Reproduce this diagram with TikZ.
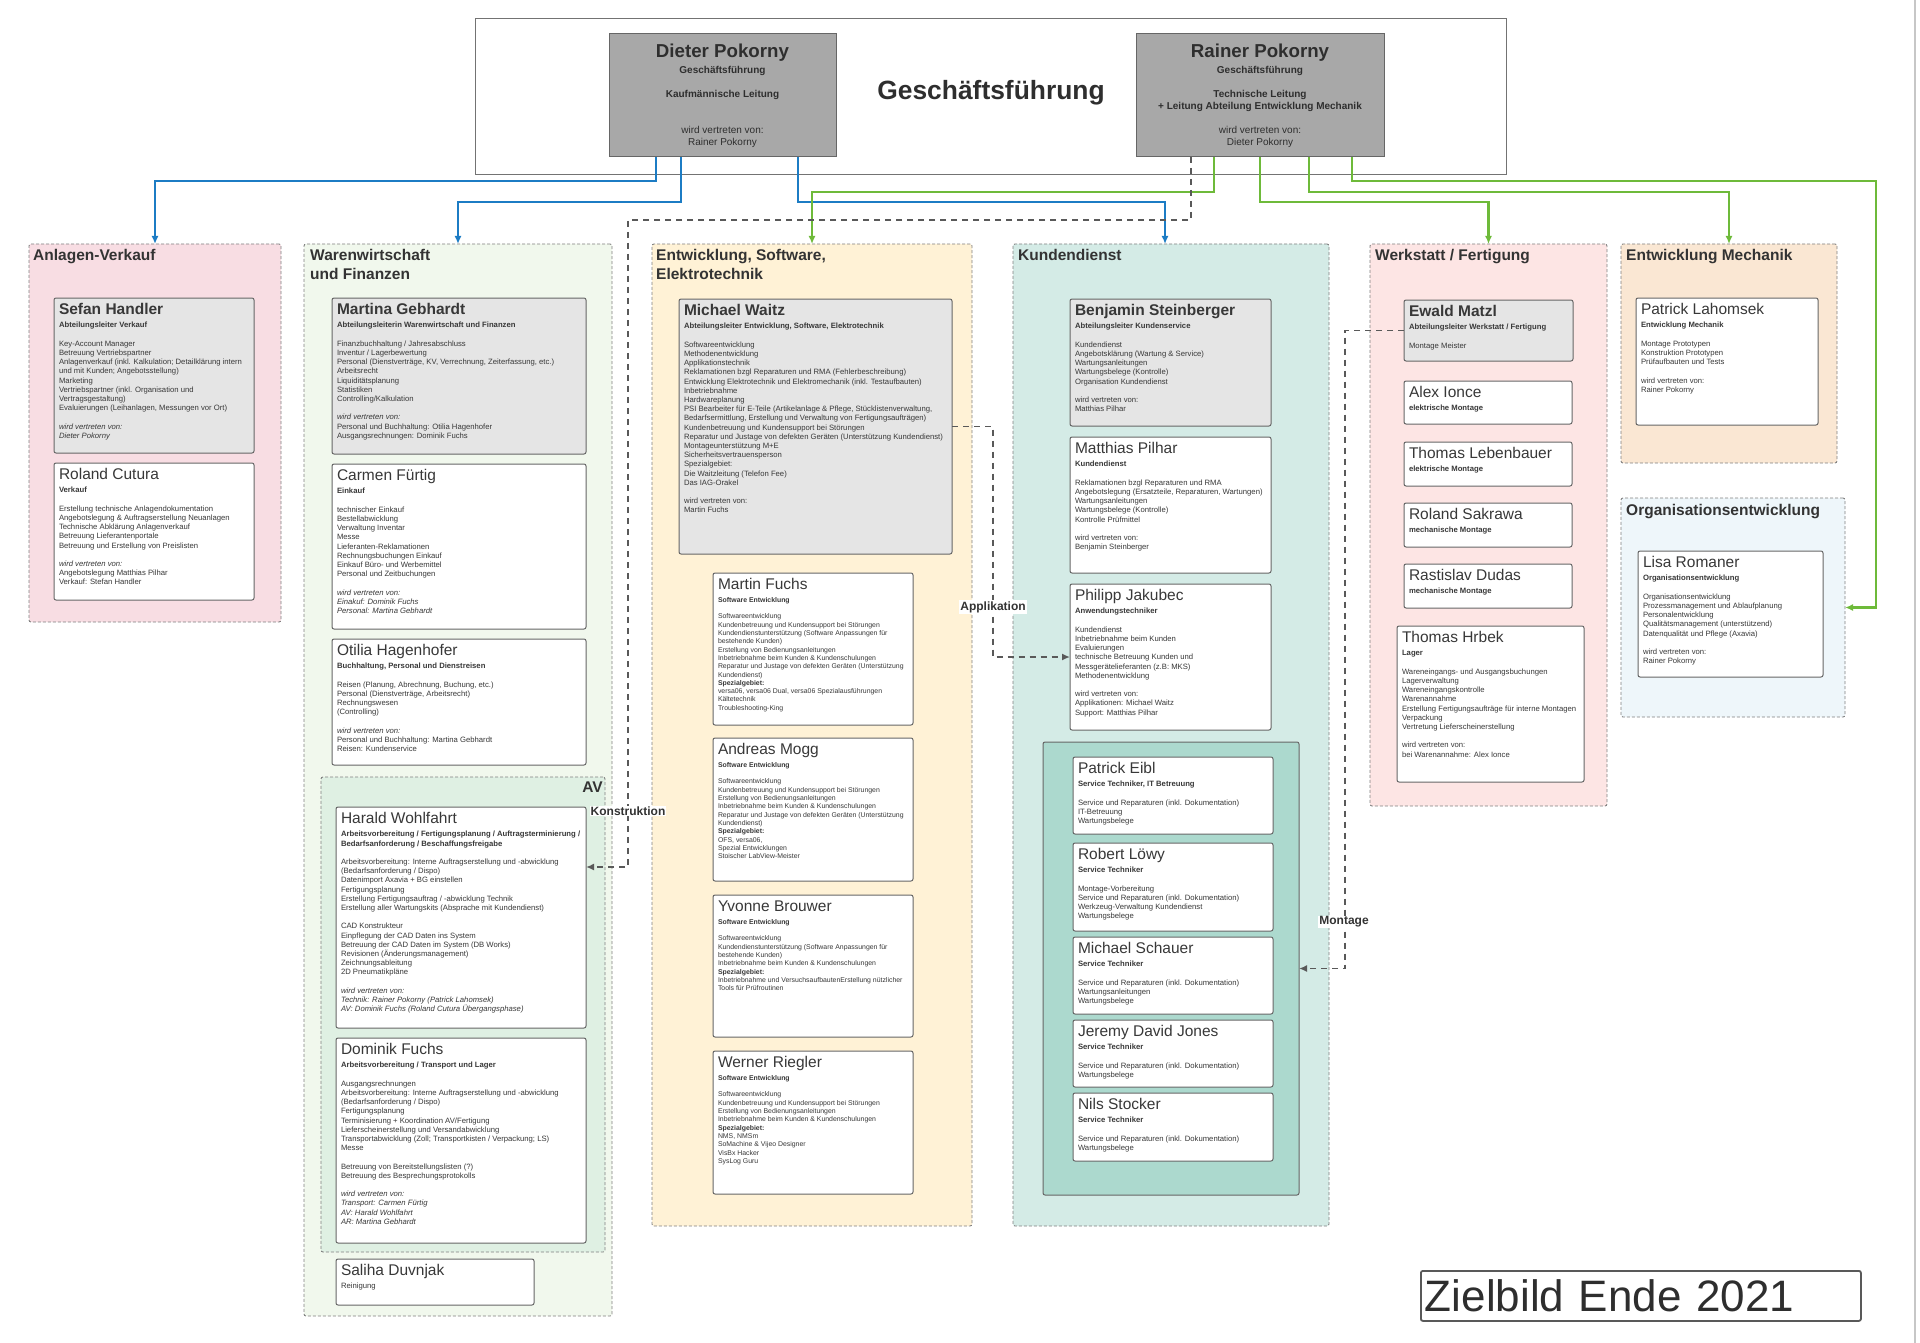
\documentclass[tikz,border=0pt]{standalone}
\usepackage{fontspec}
\setmainfont{Liberation Sans}
\usetikzlibrary{positioning}
\usetikzlibrary{arrows.meta}

\definecolor{gfblau}{RGB}{28,124,196}
\definecolor{gfgruen}{RGB}{110,186,58}
\definecolor{verkaufbg}{RGB}{248,221,227}
\definecolor{warenbg}{RGB}{241,248,237}
\definecolor{avbg}{RGB}{223,240,227}
\definecolor{entwbg}{RGB}{255,242,214}
\definecolor{kundebg}{RGB}{212,235,230}
\definecolor{technikbg}{RGB}{172,217,206}
\definecolor{werkbg}{RGB}{253,229,228}
\definecolor{mechbg}{RGB}{250,231,211}
\definecolor{orgabg}{RGB}{238,246,250}

% Inhalt einer Karte: Breite, Hoehe, Name, Zeilen
\newcommand{\kartentext}[4]{%
  \parbox[t][\dimexpr#2pt-10pt\relax][t]{\dimexpr#1pt-10pt\relax}{%
    {\fontsize{15.5}{17}\selectfont #3\strut\par}%
    \nointerlineskip\vskip1.5pt
    \begin{tabular}[t]{@{}l@{}}#4\end{tabular}}}

\tikzset{
  abteilung/.style={draw=black!50, dash pattern=on 3pt off 2pt, line width=0.9pt,
    rounded corners=2pt, anchor=north west, inner sep=0pt, outer sep=0pt},
  abtitel/.style={anchor=north west, inner sep=0pt, align=left,
    font=\fontsize{15.5}{18.6}\selectfont\bfseries, text=black!80},
  karte/.style={draw=black!60, line width=1pt, rounded corners=2pt, fill=white,
    anchor=north west, inner sep=5pt, outer sep=0pt,
    font=\fontsize{7.7}{9.2}\selectfont, text=black!78},
  leiter/.style={karte, fill=black!10},
  klein/.style={font=\fontsize{6.9}{8.3}\selectfont},
  chef/.style={draw=black!60, line width=1pt, fill=black!34, anchor=north west,
    inner sep=5pt, outer sep=0pt, font=\fontsize{10}{12}\selectfont, text=black!82},
  blau/.style={draw=gfblau, line width=2.2pt, -{Latex[length=8pt,width=7pt]}},
  gruen/.style={blau, draw=gfgruen},
  hinweis/.style={draw=black!65, line width=1.8pt, dash pattern=on 6pt off 5pt,
    -{Latex[length=8pt,width=7pt]}},
  kantenlabel/.style={fill=white, inner sep=1pt,
    font=\fontsize{12}{14}\selectfont\bfseries, text=black!80},
}

\begin{document}
\begin{tikzpicture}[x=1pt, y=-1pt]
  \useasboundingbox (0,0) rectangle (1920,1343);
  \draw[black!22, line width=2pt] (1915,0) -- (1915,1343);

  % Geschaeftsfuehrung
  \node[draw=black!55, line width=1pt, anchor=north west, minimum width=1031pt,
    minimum height=156pt] (gf) at (475,18) {};
  \node[font=\fontsize{26.4}{30}\selectfont\bfseries, text=black!82] (gftitel) at (991,93) {Geschäftsführung};

  \node[chef] (dieter) at (609,34) {\parbox[t][113pt][t]{217pt}{\centering\vspace*{3pt}%
    {\fontsize{18.7}{22}\selectfont\bfseries Dieter Pokorny\strut\par}\nointerlineskip\vskip1pt
    \begin{tabular}[t]{@{}c@{}}\textbf{Geschäftsführung}\\ ~\\ \textbf{Kaufmännische Leitung}\\ ~\\ ~\\
      wird vertreten von:\\ Rainer Pokorny\end{tabular}}};

  \node[chef] (rainer) at (1136,34) {\parbox[t][113pt][t]{238pt}{\centering\vspace*{3pt}%
    {\fontsize{18.7}{22}\selectfont\bfseries Rainer Pokorny\strut\par}\nointerlineskip\vskip1pt
    \begin{tabular}[t]{@{}c@{}}\textbf{Geschäftsführung}\\ ~\\ \textbf{Technische Leitung}\\
      \textbf{+ Leitung Abteilung Entwicklung Mechanik}\\ ~\\
      wird vertreten von:\\ Dieter Pokorny\end{tabular}}};

  % Abteilungen
  \node[abteilung, fill=verkaufbg, minimum width=252pt, minimum height=378pt] (verkauf) at (29,244) {};
  \node[abteilung, fill=warenbg, minimum width=308pt, minimum height=1072pt] (waren) at (304,244) {};
  \node[abteilung, fill=avbg, minimum width=284pt, minimum height=475pt] (avbox) at (321,777) {};
  \node[abteilung, fill=entwbg, minimum width=320pt, minimum height=982pt] (entw) at (652,244) {};
  \node[abteilung, fill=kundebg, minimum width=316pt, minimum height=982pt] (kunde) at (1013,244) {};
  \node[draw=black!60, line width=1pt, rounded corners=2pt, fill=technikbg, anchor=north west,
    outer sep=0pt, minimum width=256pt, minimum height=453pt] (technik) at (1043,742) {};
  \node[abteilung, fill=werkbg, minimum width=237pt, minimum height=562pt] (werkstatt) at (1370,244) {};
  \node[abteilung, fill=mechbg, minimum width=216pt, minimum height=219pt] (mechanik) at (1621,244) {};
  \node[abteilung, fill=orgabg, minimum width=224pt, minimum height=219pt] (orga) at (1621,498) {};

  \node[abtitel] (verkauftitel) at (33,249) {Anlagen-Verkauf};
  \node[abtitel] (warentitel) at (310,249) {Warenwirtschaft\\und Finanzen};
  \node[abtitel, anchor=north east] (avtitel) at (603,782) {AV};
  \node[abtitel] (entwtitel) at (656,249) {Entwicklung, Software,\\Elektrotechnik};
  \node[abtitel] (kundetitel) at (1018,249) {Kundendienst};
  \node[abtitel] (werkstatttitel) at (1375,249) {Werkstatt / Fertigung};
  \node[abtitel] (mechaniktitel) at (1626,249) {Entwicklung Mechanik};
  \node[abtitel] (orgatitel) at (1626,504) {Organisationsentwicklung};

  % Anlagen-Verkauf
  \node[leiter] (handler) at (54,298) {\kartentext{200}{155}{\textbf{Sefan Handler}}{%
    \textbf{Abteilungsleiter Verkauf}\\ ~\\
    Key-Account Manager\\ Betreuung Vertriebspartner\\
    Anlagenverkauf (inkl. Kalkulation; Detailklärung intern\\ und mit Kunden; Angebotsstellung)\\
    Marketing\\ Vertriebspartner (inkl. Organisation und\\ Vertragsgestaltung)\\
    Evaluierungen (Leihanlagen, Messungen vor Ort)\\ ~\\
    \textit{wird vertreten von:}\\ \textit{Dieter Pokorny}}};
  \node[karte, below=10pt of handler.south west, anchor=north west] (cutura) {\kartentext{200}{137}{Roland Cutura}{%
    \textbf{Verkauf}\\ ~\\
    Erstellung technische Anlagendokumentation\\ Angebotslegung \& Auftragserstellung Neuanlagen\\
    Technische Abklärung Anlagenverkauf\\ Betreuung Lieferantenportale\\
    Betreuung und Erstellung von Preislisten\\ ~\\
    \textit{wird vertreten von:}\\ Angebotslegung Matthias Pilhar\\ Verkauf: Stefan Handler}};

  % Warenwirtschaft und Finanzen
  \node[leiter] (gebhardt) at (332,298) {\kartentext{254}{156}{\textbf{Martina Gebhardt}}{%
    \textbf{Abteilungsleiterin Warenwirtschaft und Finanzen}\\ ~\\
    Finanzbuchhaltung / Jahresabschluss\\ Inventur / Lagerbewertung\\
    Personal (Dienstverträge, KV, Verrechnung, Zeiterfassung, etc.)\\
    Arbeitsrecht\\ Liquiditätsplanung\\ Statistiken\\ Controlling/Kalkulation\\ ~\\
    \textit{wird vertreten von:}\\ Personal und Buchhaltung: Otilia Hagenhofer\\
    Ausgangsrechnungen: Dominik Fuchs}};
  \node[karte, below=10pt of gebhardt.south west, anchor=north west] (fuertig) {\kartentext{254}{165}{Carmen Fürtig}{%
    \textbf{Einkauf}\\ ~\\
    technischer Einkauf\\ Bestellabwicklung\\ Verwaltung Inventar\\ Messe\\
    Lieferanten-Reklamationen\\ Rechnungsbuchungen Einkauf\\ Einkauf Büro- und Werbemittel\\
    Personal und Zeitbuchungen\\ ~\\
    \textit{wird vertreten von:}\\ \textit{Einakuf: Dominik Fuchs}\\ \textit{Personal: Martina Gebhardt}}};
  \node[karte, below=10pt of fuertig.south west, anchor=north west] (hagenhofer) {\kartentext{254}{126}{Otilia Hagenhofer}{%
    \textbf{Buchhaltung, Personal und Dienstreisen}\\ ~\\
    Reisen (Planung, Abrechnung, Buchung, etc.)\\ Personal (Dienstverträge, Arbeitsrecht)\\
    Rechnungswesen\\ (Controlling)\\ ~\\
    \textit{wird vertreten von:}\\ Personal und Buchhaltung: Martina Gebhardt\\ Reisen: Kundenservice}};

  \node[karte] (wohlfahrt) at (336,807) {\kartentext{250}{221}{Harald Wohlfahrt}{%
    \textbf{Arbeitsvorbereitung / Fertigungsplanung / Auftragsterminierung /}\\
    \textbf{Bedarfsanforderung / Beschaffungsfreigabe}\\ ~\\
    Arbeitsvorbereitung: Interne Auftragserstellung und -abwicklung\\
    (Bedarfsanforderung / Dispo)\\ Datenimport Axavia + BG einstellen\\ Fertigungsplanung\\
    Erstellung Fertigungsauftrag / -abwicklung Technik\\
    Erstellung aller Wartungskits (Absprache mit Kundendienst)\\ ~\\
    CAD Konstrukteur\\ Einpflegung der CAD Daten ins System\\
    Betreuung der CAD Daten im System (DB Works)\\ Revisionen (Änderungsmanagement)\\
    Zeichnungsableitung\\ 2D Pneumatikpläne\\ ~\\
    \textit{wird vertreten von:}\\ \textit{Technik: Rainer Pokorny (Patrick Lahomsek)}\\
    \textit{AV: Dominik Fuchs (Roland Cutura Übergangsphase)}}};
  \node[karte, below=10pt of wohlfahrt.south west, anchor=north west] (fuchsd) {\kartentext{250}{205}{Dominik Fuchs}{%
    \textbf{Arbeitsvorbereitung / Transport und Lager}\\ ~\\
    Ausgangsrechnungen\\ Arbeitsvorbereitung: Interne Auftragserstellung und -abwicklung\\
    (Bedarfsanforderung / Dispo)\\ Fertigungsplanung\\ Terminisierung + Koordination AV/Fertigung\\
    Lieferscheinerstellung und Versandabwicklung\\
    Transportabwicklung (Zoll; Transportkisten / Verpackung; LS)\\ Messe\\ ~\\
    Betreuung von Bereitstellungslisten (?)\\ Betreuung des Besprechungsprotokolls\\ ~\\
    \textit{wird vertreten von:}\\ \textit{Transport: Carmen Fürtig}\\ \textit{AV: Harald Wohlfahrt}\\
    \textit{AR: Martina Gebhardt}}};
  \node[karte, below=16pt of fuchsd.south west, anchor=north west] (duvnjak) {\kartentext{198}{46}{Saliha Duvnjak}{Reinigung}};

  % Entwicklung, Software, Elektrotechnik
  \node[leiter] (waitz) at (679,299) {\kartentext{273}{255}{\textbf{Michael Waitz}}{%
    \textbf{Abteilungsleiter Entwicklung, Software, Elektrotechnik}\\ ~\\
    Softwareentwicklung\\ Methodenentwicklung\\ Applikationstechnik\\
    Reklamationen bzgl Reparaturen und RMA (Fehlerbeschreibung)\\
    Entwicklung Elektrotechnik und Elektromechanik (inkl. Testaufbauten)\\
    Inbetriebnahme\\ Hardwareplanung\\
    PSI Bearbeiter für E-Teile (Artikelanlage \& Pflege, Stücklistenverwaltung,\\
    Bedarfsermittlung, Erstellung und Verwaltung von Fertigungsaufträgen)\\
    Kundenbetreuung und Kundensupport bei Störungen\\
    Reparatur und Justage von defekten Geräten (Unterstützung Kundendienst)\\
    Montageunterstützung M+E\\ Sicherheitsvertrauensperson\\ Spezialgebiet:\\
    Die Waitzleitung (Telefon Fee)\\ Das IAG-Orakel\\ ~\\
    wird vertreten von:\\ Martin Fuchs}};
  \node[karte, klein] (fuchsm) at (713,573) {\kartentext{200}{152}{Martin Fuchs}{%
    \textbf{Software Entwicklung}\\ ~\\
    Softwareentwicklung\\ Kundenbetreuung und Kundensupport bei Störungen\\
    Kundendienstunterstützung (Software Anpassungen für\\ bestehende Kunden)\\
    Erstellung von Bedienungsanleitungen\\ Inbetriebnahme beim Kunden \& Kundenschulungen\\
    Reparatur und Justage von defekten Geräten (Unterstützung\\ Kundendienst)\\
    \textbf{Spezialgebiet:}\\ versa06, versa06 Dual, versa06 Spezialausführungen\\
    Kältetechnik\\ Troubleshooting-King}};
  \node[karte, klein, below=13pt of fuchsm.south west, anchor=north west] (mogg) {\kartentext{200}{143}{Andreas Mogg}{%
    \textbf{Software Entwicklung}\\ ~\\
    Softwareentwicklung\\ Kundenbetreuung und Kundensupport bei Störungen\\
    Erstellung von Bedienungsanleitungen\\ Inbetriebnahme beim Kunden \& Kundenschulungen\\
    Reparatur und Justage von defekten Geräten (Unterstützung\\ Kundendienst)\\
    \textbf{Spezialgebiet:}\\ OFS, versa06,\\ Spezial Entwicklungen\\ Stoischer LabView-Meister}};
  \node[karte, klein, below=14pt of mogg.south west, anchor=north west] (brouwer) {\kartentext{200}{142}{Yvonne Brouwer}{%
    \textbf{Software Entwicklung}\\ ~\\
    Softwareentwicklung\\ Kundendienstunterstützung (Software Anpassungen für\\ bestehende Kunden)\\
    Inbetriebnahme beim Kunden \& Kundenschulungen\\ \textbf{Spezialgebiet:}\\
    Inbetriebnahme und VersuchsaufbautenErstellung nützlicher\\ Tools für Prüfroutinen}};
  \node[karte, klein, below=14pt of brouwer.south west, anchor=north west] (riegler) {\kartentext{200}{143}{Werner Riegler}{%
    \textbf{Software Entwicklung}\\ ~\\
    Softwareentwicklung\\ Kundenbetreuung und Kundensupport bei Störungen\\
    Erstellung von Bedienungsanleitungen\\ Inbetriebnahme beim Kunden \& Kundenschulungen\\
    \textbf{Spezialgebiet:}\\ NMS, NMSm\\ SoMachine \& Vijeo Designer\\ VisBx Hacker\\ SysLog Guru}};

  % Kundendienst
  \node[leiter] (steinberger) at (1070,299) {\kartentext{201}{127}{\textbf{Benjamin Steinberger}}{%
    \textbf{Abteilungsleiter Kundenservice}\\ ~\\
    Kundendienst\\ Angebotsklärung (Wartung \& Service)\\ Wartungsanleitungen\\
    Wartungsbelege (Kontrolle)\\ Organisation Kundendienst\\ ~\\
    wird vertreten von:\\ Matthias Pilhar}};
  \node[karte, below=11pt of steinberger.south west, anchor=north west] (pilhar) {\kartentext{201}{136}{Matthias Pilhar}{%
    \textbf{Kundendienst}\\ ~\\
    Reklamationen bzgl Reparaturen und RMA\\ Angebotslegung (Ersatzteile, Reparaturen, Wartungen)\\
    Wartungsanleitungen\\ Wartungsbelege (Kontrolle)\\ Kontrolle Prüfmittel\\ ~\\
    wird vertreten von:\\ Benjamin Steinberger}};
  \node[karte, below=11pt of pilhar.south west, anchor=north west] (jakubec) {\kartentext{201}{146}{Philipp Jakubec}{%
    \textbf{Anwendungstechniker}\\ ~\\
    Kundendienst\\ Inbetriebnahme beim Kunden\\ Evaluierungen\\ technische Betreuung Kunden und\\
    Messgerätelieferanten (z.B: MKS)\\ Methodenentwicklung\\ ~\\
    wird vertreten von:\\ Applikationen: Michael Waitz\\ Support: Matthias Pilhar}};

  \node[karte] (eibl) at (1073,757) {\kartentext{200}{77}{Patrick Eibl}{%
    \textbf{Service Techniker, IT Betreuung}\\ ~\\
    Service und Reparaturen (inkl. Dokumentation)\\ IT-Betreuung\\ Wartungsbelege}};
  \node[karte, below=9pt of eibl.south west, anchor=north west] (loewy) {\kartentext{200}{88}{Robert Löwy}{%
    \textbf{Service Techniker}\\ ~\\
    Montage-Vorbereitung\\ Service und Reparaturen (inkl. Dokumentation)\\
    Werkzeug-Verwaltung Kundendienst\\ Wartungsbelege}};
  \node[karte, below=6pt of loewy.south west, anchor=north west] (schauer) {\kartentext{200}{77}{Michael Schauer}{%
    \textbf{Service Techniker}\\ ~\\
    Service und Reparaturen (inkl. Dokumentation)\\ Wartungsanleitungen\\ Wartungsbelege}};
  \node[karte, below=6pt of schauer.south west, anchor=north west] (jones) {\kartentext{200}{67}{Jeremy David Jones}{%
    \textbf{Service Techniker}\\ ~\\
    Service und Reparaturen (inkl. Dokumentation)\\ Wartungsbelege}};
  \node[karte, below=6pt of jones.south west, anchor=north west] (stocker) {\kartentext{200}{68}{Nils Stocker}{%
    \textbf{Service Techniker}\\ ~\\
    Service und Reparaturen (inkl. Dokumentation)\\ Wartungsbelege}};

  % Werkstatt / Fertigung
  \node[leiter] (matzl) at (1404,300) {\kartentext{169}{61}{\textbf{Ewald Matzl}}{%
    \textbf{Abteilungsleiter Werkstatt / Fertigung}\\ ~\\ Montage Meister}};
  \node[karte, below=20pt of matzl.south west, anchor=north west] (ionce) {\kartentext{168}{43}{Alex Ionce}{\textbf{elektrische Montage}}};
  \node[karte, below=18pt of ionce.south west, anchor=north west] (lebenbauer) {\kartentext{168}{44}{Thomas Lebenbauer}{\textbf{elektrische Montage}}};
  \node[karte, below=17pt of lebenbauer.south west, anchor=north west] (sakrawa) {\kartentext{168}{44}{Roland Sakrawa}{\textbf{mechanische Montage}}};
  \node[karte, below=17pt of sakrawa.south west, anchor=north west] (dudas) {\kartentext{168}{44}{Rastislav Dudas}{\textbf{mechanische Montage}}};
  \node[karte] (hrbek) at (1397,626) {\kartentext{187}{156}{Thomas Hrbek}{%
    \textbf{Lager}\\ ~\\
    Wareneingangs- und Ausgangsbuchungen\\ Lagerverwaltung\\ Wareneingangskontrolle\\
    Warenannahme\\ Erstellung Fertigungsaufträge für interne Montagen\\ Verpackung\\
    Vertretung Lieferscheinerstellung\\ ~\\
    wird vertreten von:\\ bei Warenannahme: Alex Ionce}};

  % Entwicklung Mechanik, Organisationsentwicklung
  \node[karte] (lahomsek) at (1636,298) {\kartentext{182}{127}{Patrick Lahomsek}{%
    \textbf{Entwicklung Mechanik}\\ ~\\
    Montage Prototypen\\ Konstruktion Prototypen\\ Prüfaufbauten und Tests\\ ~\\
    wird vertreten von:\\ Rainer Pokorny}};
  \node[karte] (romaner) at (1638,551) {\kartentext{185}{126}{Lisa Romaner}{%
    \textbf{Organisationsentwicklung}\\ ~\\
    Organisationsentwicklung\\ Prozessmanagement und Ablaufplanung\\ Personalentwicklung\\
    Qualitätsmanagement (unterstützend)\\ Datenqualität und Pflege (Axavia)\\ ~\\
    wird vertreten von:\\ Rainer Pokorny}};

  \node[draw=black!65, line width=1.8pt, rounded corners=2pt, anchor=north west,
    minimum width=440pt, minimum height=50pt, text width=432pt, inner sep=4pt, align=left,
    font=\fontsize{44}{50}\selectfont, text=black!82] (zielbild) at (1420,1270) {Zielbild Ende 2021};

  % Verbindungen
  \draw[blau] ([xshift=47pt]dieter.south west) -- ++(0,24) -| (verkauf.north);
  \draw[blau] ([xshift=72pt]dieter.south west) -- ++(0,45) -| (waren.north);
  \draw[blau] ([xshift=189pt]dieter.south west) -- ++(0,45) -| ([xshift=-6pt]kunde.north);
  \draw[gruen] ([xshift=78pt]rainer.south west) -- ++(0,35) -| (entw.north);
  \draw[gruen] ([xshift=124pt]rainer.south west) -- ++(0,45) -| (werkstatt.north);
  \draw[gruen] ([xshift=173pt]rainer.south west) -- ++(0,35) -| (mechanik.north);
  \draw[gruen] ([xshift=216pt]rainer.south west) -- ++(0,24) -- ++(524,0) |- (orga.east);

  \coordinate (konknick) at (628,867);
  \draw[hinweis] ([xshift=-69pt]rainer.south) -- ++(0,63) -| (konknick) -- (konknick -| wohlfahrt.east);
  \draw[hinweis] (waitz.east) -- ++(41,0) |- (jakubec.west);
  \draw[hinweis] (matzl.west) -- ++(-59,0) |- (technik.east);

  \node[kantenlabel] (konlabel) at (628,811) {Konstruktion};
  \node[kantenlabel] (applabel) at (993,607) {Applikation};
  \node[kantenlabel] (montlabel) at (1344,922) {Montage};
\end{tikzpicture}
\end{document}
